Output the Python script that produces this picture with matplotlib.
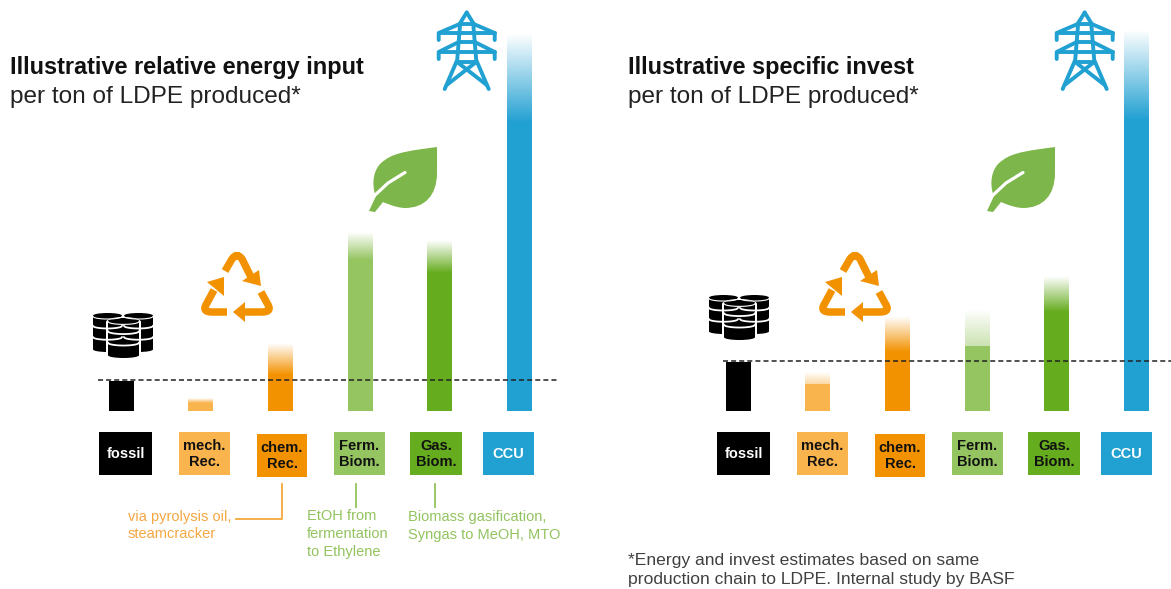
import numpy as np
import matplotlib
matplotlib.use('Agg')
import matplotlib.pyplot as plt
from matplotlib.colors import to_rgb
from matplotlib.patches import Rectangle, Ellipse, Polygon, PathPatch
from matplotlib.path import Path

plt.rcParams['font.family'] = ['Liberation Sans', 'DejaVu Sans']

# Datos (fossil = 100, linea punteada)
categories = ['fossil', 'mech.\nRec.', 'chem.\nRec.', 'Ferm.\nBiom.', 'Gas.\nBiom.', 'CCU']
colors = ['#000000', '#F9B44E', '#F39200', '#95C561', '#65AC1E', '#21A0D2']
label_colors = ['white', '#111111', '#111111', '#111111', '#111111', 'white']

energy_solid = [95, 23, 113, 484, 442, 926]
energy_top = [95, 39, 216, 574, 548, 1216]
invest_solid = [98, 51, 118, 129, 198, 586]
invest_top = [98, 76, 190, 204, 269, 769]

BLUE = colors[5]
ORANGE = colors[2]
LEAF = '#7DB64A'
W, H = 1171, 589

fig = plt.figure(figsize=(W/100, H/100), dpi=100, facecolor='white')


def panel(left, right, base, unit, first, solid, top, fade, marked):
    # ejes en pixeles: base de las barras abajo, borde superior de la figura arriba
    ax = fig.add_axes([left/W, 1-base/H, (right-left)/W, base/H])
    step = 79.7
    width = 25/step
    x = np.arange(len(solid))
    ax.bar(x, solid, width, color=colors, linewidth=0, zorder=2)
    for i in x:
        if top[i] > solid[i]:
            # desvanecido del color de la barra hacia blanco
            img = np.zeros((64, 1, 4))
            img[:, :, :3] = to_rgb(colors[i])
            img[:, 0, 3] = np.linspace(fade[i], 0, 64)
            ax.imshow(img, extent=[i-width/2, i+width/2, solid[i], top[i]],
                      origin='lower', aspect='auto', zorder=2)
    for i in marked:
        ax.hlines(solid[i], i-width/2, i+width/2, color=colors[i], lw=1.4, zorder=2)
    ax.axhline(100, color='#222222', lw=1.1, ls=(0, (3.3, 2)), zorder=3)
    ax.set_xlim((left-first)/step, (right-first)/step)
    ax.set_ylim(0, base/unit*100)
    ax.axis('off')
    return ax


panel(98, 557, 410.5, 31, 121, energy_solid, energy_top, [1, 1, 1, 1, 1, 1], [])
panel(723, 1171, 410.5, 49.5, 738, invest_solid, invest_top, [1, 0.55, 1, 0.5, 1, 1], [1, 3])

# capa en pixeles para iconos, etiquetas y textos
px = fig.add_axes([0, 0, 1, 1], zorder=5)
px.set_xlim(0, W)
px.set_ylim(H, 0)
px.axis('off')
px.patch.set_alpha(0)


def tower(cx):
    segs = [
        [(0, 12.5), (-6.5, 23), (-9.5, 60), (-22, 89)],
        [(0, 12.5), (6.5, 23), (9.5, 60), (22, 89)],
        [(-28, 40), (-28, 33), (-7, 24)],
        [(28, 40), (28, 33), (7, 24)],
        [(-28, 33), (28, 33)],
        [(-28, 59), (-28, 52), (-8, 42)],
        [(28, 59), (28, 52), (8, 42)],
        [(-28, 52), (28, 52)],
        [(-8, 42), (8, 42)],
        [(-7, 24), (7, 24)],
        [(-9.5, 62), (9.5, 62)],
        [(-9.5, 62), (20, 85)],
        [(9.5, 62), (-20, 85)],
    ]
    for s in segs:
        s = np.array(s)
        px.plot(cx+s[:, 0], s[:, 1], color=BLUE, lw=2.8, solid_capstyle='round',
                solid_joinstyle='round')


def leaf(dx):
    verts = [(437, 147), (415, 150), (395, 152), (385, 160), (375, 166), (372, 178), (374, 190),
             (375, 194), (376, 196), (369, 211), (375, 212), (383, 202),
             (392, 206), (400, 208), (405, 208), (425, 208), (437, 195), (437, 173), (437, 147)]
    codes = [Path.MOVETO, Path.CURVE4, Path.CURVE4, Path.CURVE4, Path.CURVE4, Path.CURVE4, Path.CURVE4,
             Path.LINETO, Path.LINETO, Path.LINETO, Path.LINETO, Path.LINETO,
             Path.CURVE4, Path.CURVE4, Path.CURVE4, Path.CURVE4, Path.CURVE4, Path.LINETO, Path.LINETO]
    verts = [(a+dx, b) for a, b in verts]
    px.add_patch(PathPatch(Path(verts, codes), facecolor=LEAF, edgecolor='none'))
    px.plot([373+dx, 388+dx, 405+dx], [197, 183, 172.5], color='white', lw=2.3,
            solid_capstyle='round')


def recycle(dx):
    arms = [
        ([(225, 271), (232, 259), (237, 252), (242, 259), (251, 277)],
         [(261, 286), (242, 281), (259, 270)]),
        ([(261, 292), (267, 303), (273, 312), (262, 312), (243, 312)],
         [(233, 312), (245, 302), (245, 322)]),
        ([(227, 312), (212, 312), (201, 312), (207, 303), (214, 290)],
         [(224, 277), (207, 282), (224, 296)]),
    ]
    codes = [Path.MOVETO, Path.LINETO, Path.CURVE3, Path.CURVE3, Path.LINETO]
    for line, head in arms:
        verts = [(a+dx, b) for a, b in line]
        px.add_patch(PathPatch(Path(verts, codes), facecolor='none', edgecolor=ORANGE, lw=5.4,
                               capstyle='butt'))
        px.add_patch(Polygon([(a+dx, b) for a, b in head], facecolor=ORANGE, edgecolor='none'))


def cylinder(cx, top, w, h):
    rim = w*0.18
    t = np.linspace(-1, 1, 40)
    arc = np.sqrt(1-t**2)*rim/2
    px.add_patch(Rectangle((cx-w/2, top+rim/2), w, h-rim, facecolor='black', edgecolor='none'))
    px.add_patch(Ellipse((cx, top+rim/2), w, rim, facecolor='black', edgecolor='none'))
    px.add_patch(Ellipse((cx, top+h-rim/2), w, rim, facecolor='black', edgecolor='none'))
    # tapa y separaciones entre tambores
    px.plot(cx+t*w/2, top+rim/2+arc+0.8, color='white', lw=0.8)
    for k in (1, 2):
        yy = top+rim/2+(h-rim)*k/3
        px.plot(cx+t*w/2, yy+arc-1, color='white', lw=1.3)


def barrels(dx, dy):
    cylinder(107.5+dx, 313+dy, 29, 39)
    cylinder(138.5+dx, 313+dy, 29, 39)
    px.add_patch(Rectangle((106+dx, 322+dy), 35, 38, facecolor='white', edgecolor='none'))
    px.add_patch(Ellipse((123.5+dx, 322+dy), 35, 10, facecolor='white', edgecolor='none'))
    cylinder(123.5+dx, 318+dy, 31, 40)


def boxes(dx):
    xs = [(99, 152), (179, 230), (257, 307), (334, 385), (410, 462), (483, 534)]
    ys = [(432, 475), (432, 475), (434, 477), (432, 475), (432, 475), (432, 475)]
    for i, c in enumerate(categories):
        x0, x1 = xs[i]
        y0, y1 = ys[i]
        px.add_patch(Rectangle((x0+dx, y0), x1-x0, y1-y0, facecolor=colors[i], edgecolor='none'))
        px.text((x0+x1)/2+dx, (y0+y1)/2+0.5, c, ha='center', va='center', fontsize=10.5,
                fontweight='bold', color=label_colors[i], linespacing=1.2)


tower(466.7)
tower(1084.7)
leaf(0)
leaf(618)
recycle(0)
recycle(618)
barrels(0, 0)
barrels(616, -18)
boxes(0)
boxes(618)

for x0, title in [(10, 'Illustrative relative energy input'), (628, 'Illustrative specific invest')]:
    px.text(x0, 67.5, title, fontsize=16.9, fontweight='bold', color='#111111', va='center')
    px.text(x0, 96.5, 'per ton of LDPE produced*', fontsize=17.6, color='#222222', va='center')

# anotaciones de los procesos
px.plot([282, 282, 236], [484, 519, 519], color='#F5A83C', lw=1.3)
px.plot([356, 356], [484, 507], color='#92C35F', lw=1.3)
px.plot([435, 435], [484, 507], color='#92C35F', lw=1.3)
px.text(128, 525.5, 'via pyrolysis oil,\nsteamcracker', color='#F5A742', fontsize=10.5,
        va='center', linespacing=1.36)
px.text(307, 534, 'EtOH from\nfermentation\nto Ethylene', color='#92C35F', fontsize=10.5,
        va='center', linespacing=1.36)
px.text(408, 526, 'Biomass gasification,\nSyngas to MeOH, MTO', color='#92C35F', fontsize=10.5,
        va='center', linespacing=1.36)
px.text(628, 570, '*Energy and invest estimates based on same\nproduction chain to LDPE. Internal study by BASF',
        color='#404040', fontsize=12.6, va='center', linespacing=1.32)

fig.savefig('out.png', dpi=100)
